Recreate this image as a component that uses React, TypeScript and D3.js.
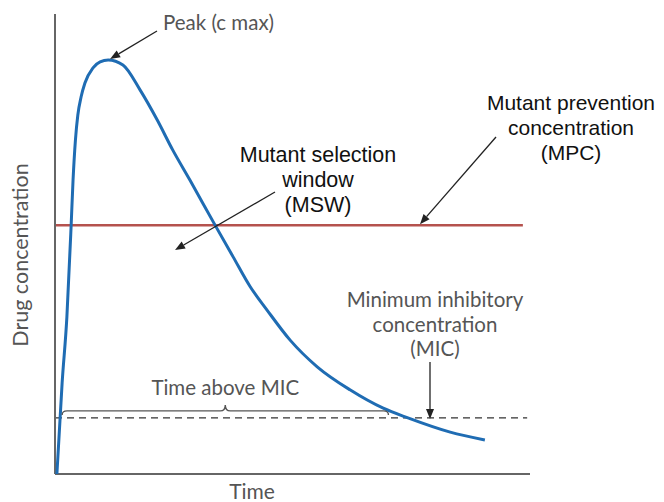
import React from "react";
import * as d3 from "d3";

// drug concentration curve, time 0-100, concentration 0-100
const time = [0.4, 1.5, 2.5, 3.4, 3.8, 4.3, 4.8, 5.5, 6.3, 8.0, 9.5, 11.2, 14.3, 17.9, 21.5, 24.8, 28.4, 33.7, 37.5, 41.1, 44.6, 49.5, 55.2, 62.1, 69.1, 74.3, 83.2, 90.5];
const conc = [0, 19.8, 34.1, 54.1, 63.9, 72.6, 78.0, 82.0, 85.0, 88.3, 89.6, 90.0, 88.9, 83.5, 77.0, 70.4, 63.9, 54.1, 47.2, 40.7, 35.7, 29.1, 23.3, 18.3, 14.3, 12.2, 9.1, 7.4];

const MPC = 54.1;
const MIC = 12.2;
const aboveMic = [1.5, 70.2]; // brace span in time units

const mscLines = ["Mutant selection", "window", "(MSW)"];
const mpcLines = ["Mutant prevention", "concentration", "(MPC)"];
const micLines = ["Minimum inhibitory", "concentration", "(MIC)"];

const W = 664, H = 502;
const humanist = "Lato, 'Open Sans', sans-serif";
const arial = "'Liberation Sans', Arial, sans-serif";

export default function App() {
  const x = d3.scaleLinear().domain([0, 100]).range([55, 530]);
  const y = d3.scaleLinear().domain([0, 100]).range([474, 14]);

  const pts: [number, number][] = time.map((t, i) => [t, conc[i]]);
  const line = d3.line<[number, number]>()
    .x(d => x(d[0]))
    .y(d => y(d[1]))
    .curve(d3.curveMonotoneX);

  // brace over time-above-MIC
  const bx0 = x(aboveMic[0]), bx1 = x(aboveMic[1]);
  const bm = (bx0 + bx1) / 2;
  const by = y(MIC) - 7;
  const brace = `M${bx0},${by + 4} Q${bx0},${by} ${bx0 + 5},${by} L${bm - 5},${by} Q${bm},${by} ${bm},${by - 6} Q${bm},${by} ${bm + 5},${by} L${bx1 - 5},${by} Q${bx1},${by} ${bx1},${by + 4}`;

  const arrow = (x1: number, y1: number, x2: number, y2: number, key: string) => {
    const a = Math.atan2(y2 - y1, x2 - x1);
    const L = 10, w = 4;
    const bxp = x2 - L * Math.cos(a), byp = y2 - L * Math.sin(a);
    const p1 = [bxp + w * Math.sin(a), byp - w * Math.cos(a)];
    const p2 = [bxp - w * Math.sin(a), byp + w * Math.cos(a)];
    return (
      <g key={key}>
        <line x1={x1} y1={y1} x2={bxp} y2={byp} stroke="#222" strokeWidth={1.3} />
        <path d={`M${x2},${y2}L${p1[0]},${p1[1]}L${p2[0]},${p2[1]}Z`} fill="#222" />
      </g>
    );
  };

  return (
    <svg width={W} height={H} style={{ position: "absolute", left: 0, top: 0, background: "#fff" }}>
      {/* MPC line */}
      <line x1={x(0)} x2={x(98.5)} y1={y(MPC)} y2={y(MPC)} stroke="#b5524e" strokeWidth={2.5} />
      {/* MIC dashed line */}
      <line x1={x(0)} x2={x(99.4)} y1={y(MIC)} y2={y(MIC)} stroke="#333" strokeWidth={1.4} strokeDasharray="7,5" />
      {/* axes */}
      <line x1={x(0)} x2={x(0)} y1={y(0)} y2={y(100)} stroke="#666" strokeWidth={2} />
      <line x1={x(0)} x2={x(100)} y1={y(0)} y2={y(0)} stroke="#666" strokeWidth={2} />
      {/* curve */}
      <path d={line(pts) || ""} fill="none" stroke="#1f6cb3" strokeWidth={3} />
      {/* brace */}
      <path d={brace} fill="none" stroke="#555" strokeWidth={1.4} />
      <text x={bm} y={395} textAnchor="middle" fontFamily={humanist} fontSize={20.5} fill="#555">Time above MIC</text>

      {/* axis titles */}
      <text x={252} y={499} textAnchor="middle" fontFamily={humanist} fontSize={21} fill="#555">Time</text>
      <text transform="translate(28,255) rotate(-90)" textAnchor="middle" fontFamily={humanist} fontSize={21.5} fill="#555">Drug concentration</text>

      {/* peak */}
      <text x={163} y={30} fontFamily={humanist} fontSize={20.5} fill="#555">Peak (c max)</text>
      {arrow(157, 31, x(11.6), y(90) - 1, "peak")}

      {/* MSW */}
      {mscLines.map((s, i) => (
        <text key={s} x={318} y={162 + i * 25} textAnchor="middle" fontFamily={arial} fontSize={21.5} fill="#111">{s}</text>
      ))}
      {arrow(275, 192, 175, 250, "msw")}

      {/* MPC */}
      {mpcLines.map((s, i) => (
        <text key={s} x={571} y={110 + i * 25} textAnchor="middle" fontFamily={arial} fontSize={21} fill="#111">{s}</text>
      ))}
      {arrow(496, 137, 420, y(MPC) - 1, "mpc")}

      {/* MIC */}
      {micLines.map((s, i) => (
        <text key={s} x={435} y={307 + i * 24.5} textAnchor="middle" fontFamily={humanist} fontSize={20.5} fill="#555">{s}</text>
      ))}
      {arrow(430, 362, 430, y(MIC) + 1, "mic")}
    </svg>
  );
}
